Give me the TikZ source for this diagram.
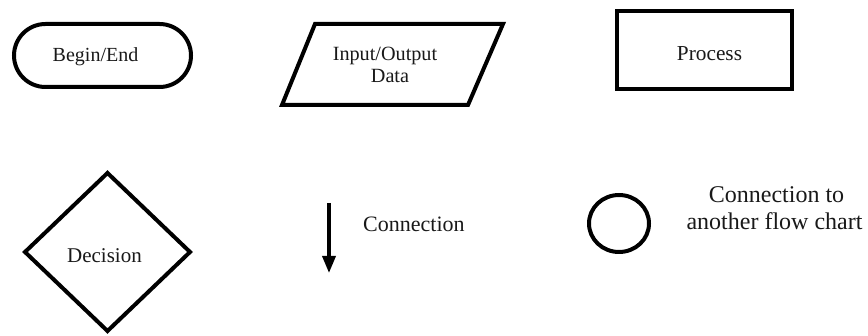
\documentclass[tikz,border=0pt]{standalone}
\usepackage{fontspec}
\setmainfont{Liberation Serif}
\usetikzlibrary{arrows.meta,shapes.geometric}
\begin{document}
\begin{tikzpicture}[x=1pt,y=-1pt,
  outline/.style={draw=black,line width=4pt,inner sep=0pt,outer sep=0pt},
  shapeline/.style={draw=black,line width=4pt,line join=miter},
  legendtext/.style={inner sep=0pt,anchor=base,text=black!90},
  flowarrow/.style={draw=black,line width=3.5pt,-{Triangle[width=13pt,length=17pt]}}]
\useasboundingbox[fill=white] (0,0) rectangle (868,336);

% terminator
\node[outline,rounded corners=31.5pt,minimum width=177pt,minimum height=63pt] (beginend) at (102.5,55.5) {};
\node[legendtext,font=\fontsize{20}{22}\selectfont] (beginendtext) at (95.5,62) {Begin/End};

% input / output
\draw[shapeline] (315,24) coordinate (io-tl) -- (503,24) coordinate (io-tr)
  -- (468,105) coordinate (io-br) -- (282,105) coordinate (io-bl) -- cycle;
\node[legendtext,font=\fontsize{20.2}{22}\selectfont] (iotextA) at (385,61) {Input/Output};
\node[legendtext,font=\fontsize{20.2}{22}\selectfont] (iotextB) at (390,83) {Data};

% process
\node[outline,minimum width=175pt,minimum height=78pt] (process) at (704,50.5) {};
\node[legendtext,font=\fontsize{21.3}{23}\selectfont] (processtext) at (709.5,61) {Process};

% decision
\node[outline,diamond,minimum width=165pt,minimum height=158pt] (decision) at (107.5,252) {};
\node[legendtext,font=\fontsize{21}{23}\selectfont] (decisiontext) at (104.5,263) {Decision};

% flow line
\coordinate (conn-start) at (329,203);
\coordinate (conn-end) at (329,273);
\draw[flowarrow] (conn-start) -- (conn-end);
\node[legendtext,anchor=base west,font=\fontsize{22}{24}\selectfont] (conntext) at (363,232) {Connection};

% off-page connector
\node[outline,ellipse,minimum width=60pt,minimum height=57pt] (offpage) at (619,223.5) {};
\node[legendtext,font=\fontsize{24}{27}\selectfont] (offpagetextA) at (776.5,203) {Connection to};
\node[legendtext,font=\fontsize{24}{27}\selectfont] (offpagetextB) at (774.5,230) {another flow chart};
\end{tikzpicture}
\end{document}
